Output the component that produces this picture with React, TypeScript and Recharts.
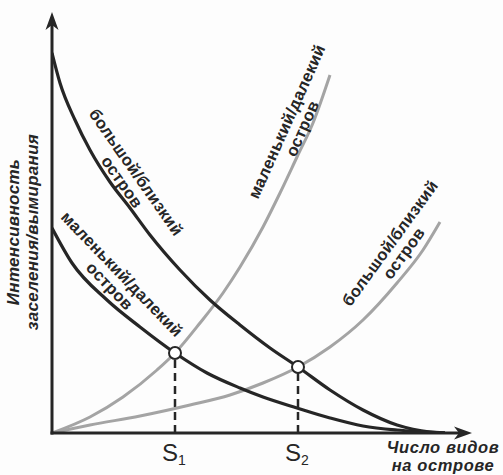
import { LineChart, Line, XAxis, YAxis, ReferenceLine, ReferenceDot } from 'recharts';

const DARK = '#262626';
const GREY = '#a4a4a4';
const FONT = '"Liberation Sans", Arial, sans-serif';

// x = number of species on the island, y = immigration / extinction rate
const bigNearImmigration = [
  { x: 0, y: 380 }, { x: 8, y: 350 }, { x: 23, y: 313 }, { x: 38, y: 283 },
  { x: 58, y: 251 }, { x: 78, y: 225 }, { x: 98, y: 198 }, { x: 128, y: 163 },
  { x: 158, y: 133 }, { x: 188, y: 108 }, { x: 218, y: 85 }, { x: 246, y: 66 },
  { x: 278, y: 43 }, { x: 311, y: 23 }, { x: 345, y: 8 }, { x: 378, y: 1 }, { x: 393, y: 0 },
];
const smallFarImmigration = [
  { x: 0, y: 205 }, { x: 20, y: 170 }, { x: 55, y: 133 }, { x: 88, y: 106 },
  { x: 123, y: 80 }, { x: 155, y: 60 }, { x: 188, y: 45 }, { x: 211, y: 36 },
  { x: 245, y: 25 }, { x: 278, y: 15 }, { x: 311, y: 7 }, { x: 345, y: 3 },
  { x: 378, y: 1 }, { x: 393, y: 0 },
];
const smallFarExtinction = [
  { x: 0, y: 0 }, { x: 38, y: 16 }, { x: 71, y: 36 }, { x: 105, y: 63 },
  { x: 123, y: 80 }, { x: 148, y: 110 }, { x: 171, y: 140 }, { x: 188, y: 166 },
  { x: 211, y: 206 }, { x: 228, y: 240 }, { x: 245, y: 276 }, { x: 261, y: 310 },
  { x: 278, y: 358 },
];
const bigNearExtinction = [
  { x: 0, y: 0 }, { x: 38, y: 8 }, { x: 88, y: 17 }, { x: 138, y: 28 },
  { x: 178, y: 38 }, { x: 211, y: 50 }, { x: 246, y: 66 }, { x: 278, y: 86 },
  { x: 311, y: 113 }, { x: 345, y: 150 }, { x: 371, y: 183 }, { x: 388, y: 211 },
];

// equilibrium species numbers S1, S2
const equilibria = [
  { sub: '1', x: 123, y: 80 },
  { sub: '2', x: 246, y: 66 },
];

const bigNearText = ['большой/близкий', 'остров'];
const smallFarText = ['маленький/далекий', 'остров'];

const curveLabels = [
  { x: 83, y: 260, angle: 55, lines: bigNearText },
  { x: 69, y: 158, angle: 46, lines: smallFarText },
  { x: 236, y: 311, angle: -66, lines: smallFarText },
  { x: 339, y: 189, angle: -54, lines: bigNearText },
];

const AxisArrow = (props: any) => {
  const { x1, y1, x2, y2 } = props;
  const dx = x2 - x1;
  const dy = y2 - y1;
  const len = Math.hypot(dx, dy);
  const ux = dx / len;
  const uy = dy / len;
  const nx = -uy;
  const ny = ux;
  const L = 18;
  const W = 6.5;
  const notch = 5;
  const bx = x2 - ux * L;
  const by = y2 - uy * L;
  const mx = x2 - ux * (L - notch);
  const my = y2 - uy * (L - notch);
  const pts = [
    [x2, y2],
    [bx + nx * W, by + ny * W],
    [mx, my],
    [bx - nx * W, by - ny * W],
  ]
    .map((p) => p.join(','))
    .join(' ');
  return (
    <g>
      <line x1={x1 - ux * 1.5} y1={y1 - uy * 1.5} x2={mx} y2={my} stroke={DARK} strokeWidth={3} />
      <polygon points={pts} fill={DARK} />
    </g>
  );
};

const CurveLabel = ({ cx, cy, angle, lines }: any) => (
  <g transform={`translate(${cx},${cy}) rotate(${angle})`}>
    {lines.map((t: string, i: number) => (
      <text
        key={i}
        x={0}
        y={i * 17}
        textAnchor="middle"
        dominantBaseline="middle"
        fontFamily={FONT}
        fontWeight="bold"
        fontSize={16.5}
        letterSpacing={0.3}
        fill={DARK}
      >
        {t}
      </text>
    ))}
  </g>
);

const STick = (props: any) => {
  const { x, y, payload } = props;
  const eq = equilibria.find((e) => e.x === payload.value);
  return (
    <text x={x - 1} y={y + 20} textAnchor="middle" fontFamily={FONT} fontSize={24} fill={DARK}>
      S
      <tspan fontSize={14} dy={4}>
        {eq ? eq.sub : ''}
      </tspan>
    </text>
  );
};

export default function App() {
  return (
    <div
      style={{
        position: 'absolute',
        left: 0,
        top: 0,
        width: 503,
        height: 475,
        background: '#fdfdfd',
        overflow: 'hidden',
      }}
    >
      <LineChart width={503} height={475} margin={{ top: 12, right: 31, left: 52, bottom: 12 }}>
        <XAxis
          type="number"
          dataKey="x"
          domain={[0, 420]}
          ticks={equilibria.map((e) => e.x)}
          tick={<STick />}
          axisLine={false}
          tickLine={false}
          height={30}
          allowDataOverflow
        />
        <YAxis type="number" dataKey="y" domain={[0, 421]} hide allowDataOverflow />

        {equilibria.map((e) => (
          <ReferenceLine
            key={'d' + e.sub}
            segment={[{ x: e.x, y: 0 }, { x: e.x, y: e.y }]}
            stroke={DARK}
            strokeWidth={2.5}
            strokeDasharray="8 5"
          />
        ))}

        <Line data={smallFarExtinction} dataKey="y" type="monotone" stroke={GREY} strokeWidth={3} dot={false} isAnimationActive={false} />
        <Line data={bigNearExtinction} dataKey="y" type="monotone" stroke={GREY} strokeWidth={3} dot={false} isAnimationActive={false} />
        <Line data={bigNearImmigration} dataKey="y" type="monotone" stroke={DARK} strokeWidth={3.2} dot={false} isAnimationActive={false} />
        <Line data={smallFarImmigration} dataKey="y" type="monotone" stroke={DARK} strokeWidth={3.2} dot={false} isAnimationActive={false} />

        <ReferenceLine segment={[{ x: 0, y: 0 }, { x: 0, y: 421 }]} shape={<AxisArrow />} ifOverflow="visible" />
        <ReferenceLine segment={[{ x: 0, y: 0 }, { x: 420, y: 0 }]} shape={<AxisArrow />} ifOverflow="visible" />

        {equilibria.map((e) => (
          <ReferenceDot key={'p' + e.sub} x={e.x} y={e.y} r={6} fill="#fff" stroke={DARK} strokeWidth={2} />
        ))}

        {curveLabels.map((c, i) => (
          <ReferenceDot
            key={'l' + i}
            x={c.x}
            y={c.y}
            r={0}
            ifOverflow="visible"
            shape={(p: any) => <CurveLabel cx={p.cx} cy={p.cy} angle={c.angle} lines={c.lines} />}
          />
        ))}
      </LineChart>

      <div
        style={{
          position: 'absolute',
          left: 23 - 120,
          top: 232 - 19,
          width: 240,
          height: 38,
          transform: 'rotate(-90deg)',
          textAlign: 'center',
          fontFamily: FONT,
          fontWeight: 'bold',
          fontStyle: 'italic',
          fontSize: 17,
          letterSpacing: 0.3,
          lineHeight: '19px',
          color: DARK,
        }}
      >
        <div>Интенсивность</div>
        <div>заселения/вымирания</div>
      </div>

      <div
        style={{
          position: 'absolute',
          left: 443 - 75,
          top: 438,
          width: 150,
          textAlign: 'center',
          fontFamily: FONT,
          fontWeight: 'bold',
          fontStyle: 'italic',
          fontSize: 16.5,
          letterSpacing: 0.6,
          lineHeight: '18px',
          color: DARK,
        }}
      >
        <div>Число видов</div>
        <div>на острове</div>
      </div>
    </div>
  );
}
